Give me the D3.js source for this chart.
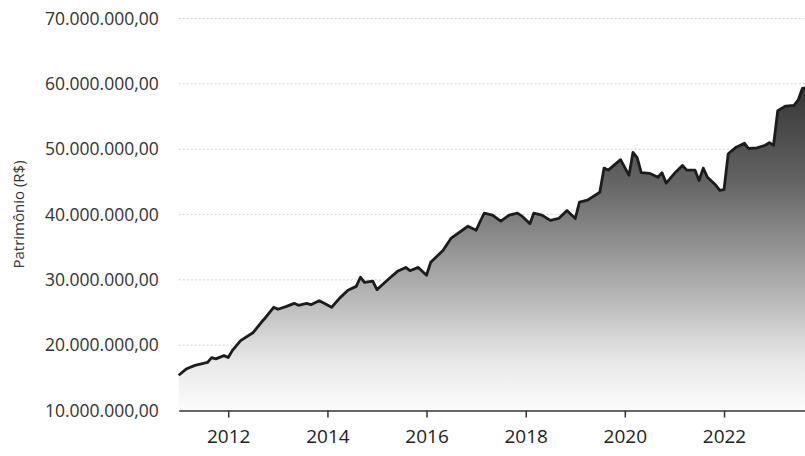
<!DOCTYPE html>
<html>
<head>
<meta charset="utf-8">
<script src="https://cdn.jsdelivr.net/npm/d3@7"></script>
<style>
  html, body { margin: 0; padding: 0; background: #fff; overflow: hidden; }
  svg { display: block; font-family: "Open Sans", "Noto Sans", sans-serif; }
</style>
</head>
<body>
<svg id="chart" width="805" height="456"></svg>
<script>
// ---- data (R$ millions) ----
const dates = [
  "2011-01","2011-03","2011-05","2011-08","2011-09","2011-10","2011-12",
  "2012-01","2012-02","2012-04","2012-07","2012-09","2012-10","2012-12",
  "2013-01","2013-03","2013-05","2013-06","2013-08","2013-09","2013-11","2013-12",
  "2014-02","2014-04","2014-06","2014-08","2014-09","2014-10","2014-12",
  "2015-01","2015-02","2015-04","2015-06","2015-08","2015-09","2015-11",
  "2016-01","2016-02","2016-05","2016-07","2016-11",
  "2017-01","2017-02","2017-03","2017-05","2017-07","2017-09","2017-11","2017-12",
  "2018-02","2018-03","2018-05","2018-07","2018-09","2018-11",
  "2019-01","2019-02","2019-04","2019-07","2019-08","2019-09","2019-12",
  "2020-02","2020-03","2020-04","2020-05","2020-07","2020-09","2020-10","2020-11",
  "2021-01","2021-03","2021-04","2021-06","2021-07","2021-08","2021-09","2021-11","2021-12",
  "2022-01","2022-02","2022-04","2022-06","2022-07","2022-09","2022-11","2022-12",
  "2023-01","2023-02","2023-04","2023-06","2023-07","2023-08","2023-09","2023-10"
];
const patrimonio = [
  15.4,16.4,16.9,17.35,18.1,17.9,18.4,
  18.1,19.2,20.7,21.9,23.5,24.2,25.8,
  25.5,25.9,26.4,26.1,26.4,26.2,26.8,26.5,
  25.8,27.2,28.4,29.0,30.4,29.6,29.8,
  28.5,29.1,30.2,31.3,31.9,31.4,31.9,
  30.7,32.7,34.5,36.4,38.2,
  37.6,39.0,40.2,39.9,39.0,39.9,40.2,39.8,
  38.6,40.2,39.9,39.1,39.4,40.6,
  39.4,41.9,42.2,43.4,47.1,46.8,48.4,
  46.0,49.5,48.7,46.4,46.3,45.7,46.4,44.8,
  46.3,47.5,46.8,46.8,45.2,47.1,45.7,44.5,43.7,
  43.8,49.3,50.3,50.9,50.1,50.2,50.6,51.0,
  50.6,55.9,56.6,56.7,57.5,59.3,59.4,59.6
];
const yTicks = [10, 20, 30, 40, 50, 60, 70];           // millions
const xDomain = ["2011-01-01", "2023-10-01"];
const yTitle = "Patrimônio (R$)";

// ---- setup ----
const svg = d3.select("#chart");
const parseM = d3.timeParse("%Y-%m");
const parseD = d3.timeParse("%Y-%m-%d");
const data = dates.map((d, i) => ({ date: parseM(d), value: patrimonio[i] * 1e6 }));

const mLeft = 178.7, mTop = 18.5, mBottom = 410.5;
const pxPerYear = 49.57;
const dom = xDomain.map(parseD);
const spanYears = (dom[1] - dom[0]) / (365.2425 * 864e5);
const x = d3.scaleTime()
  .domain(dom)
  .range([mLeft, mLeft + spanYears * pxPerYear]);
const y = d3.scaleLinear()
  .domain([10e6, 70e6])
  .range([mBottom, mTop]);

const br = d3.formatLocale({ decimal: ",", thousands: ".", grouping: [3], currency: ["R$ ", ""] });
const fmt = br.format(",.2f");

// gradient
const defs = svg.append("defs");
const grad = defs.append("linearGradient")
  .attr("id", "fillGrad")
  .attr("gradientUnits", "userSpaceOnUse")
  .attr("x1", 0).attr("x2", 0)
  .attr("y1", y(60e6)).attr("y2", y(10e6));
[[0, "#343434"], [0.3, "#646464"], [0.6, "#aaaaaa"], [0.85, "#e8e8e8"], [1, "#fcfcfc"]]
  .forEach(([o, c]) => grad.append("stop").attr("offset", o).attr("stop-color", c));

// grid lines
svg.append("g")
  .selectAll("line")
  .data(yTicks.filter(t => t > 10))
  .join("line")
  .attr("x1", mLeft).attr("x2", 805)
  .attr("y1", d => y(d * 1e6)).attr("y2", d => y(d * 1e6))
  .attr("stroke", "#d2d2d2")
  .attr("stroke-width", 1)
  .attr("stroke-dasharray", "2,2");

// area
svg.append("path")
  .datum(data)
  .attr("fill", "url(#fillGrad)")
  .attr("d", d3.area().x(d => x(d.date)).y0(y(10e6)).y1(d => y(d.value)));

// line
svg.append("path")
  .datum(data)
  .attr("fill", "none")
  .attr("stroke", "#1c1c1c")
  .attr("stroke-width", 2.8)
  .attr("stroke-linejoin", "round")
  .attr("d", d3.line().x(d => x(d.date)).y(d => y(d.value)));

// y axis labels
const yAxis = svg.append("g")
  .attr("transform", `translate(${mLeft},0)`)
  .call(d3.axisLeft(y).tickValues(yTicks.map(t => t * 1e6)).tickFormat(fmt).tickSize(0).tickPadding(20));
yAxis.select(".domain").remove();
yAxis.selectAll("text")
  .attr("fill", "#333")
  .style("font-size", "17.5px")
  .style("font-family", "'Open Sans', sans-serif");

// x axis
const xAxis = svg.append("g")
  .attr("transform", `translate(0,${mBottom})`)
  .call(d3.axisBottom(x).ticks(d3.timeYear.every(2)).tickFormat(d3.timeFormat("%Y")).tickSize(7).tickSizeOuter(0).tickPadding(12));
xAxis.select(".domain").attr("stroke", "#333").attr("stroke-width", 1.5);
xAxis.selectAll(".tick line").attr("stroke", "#333").attr("stroke-width", 1.5);
xAxis.selectAll("text")
  .attr("fill", "#222")
  .style("font-size", "19px")
  .style("font-family", "'Open Sans', sans-serif");

// y title
svg.append("text")
  .attr("transform", `translate(24,${(mTop + mBottom) / 2}) rotate(-90)`)
  .attr("text-anchor", "middle")
  .attr("fill", "#333")
  .style("font-size", "15px")
  .text(yTitle);
</script>
</body>
</html>
